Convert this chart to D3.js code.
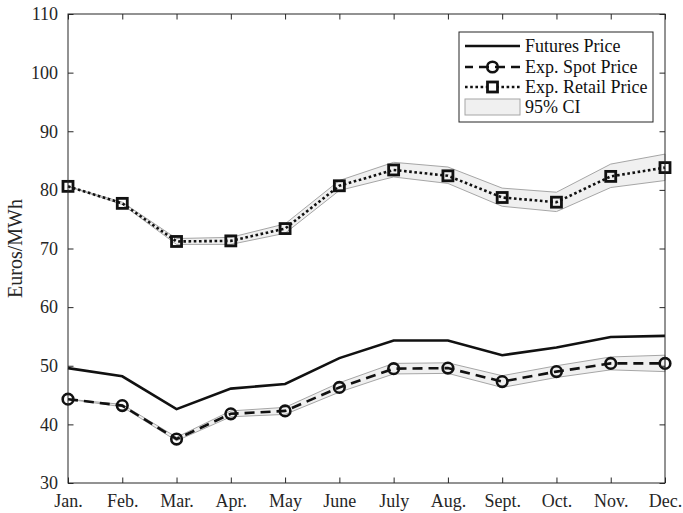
<!DOCTYPE html>
<html>
<head>
<meta charset="utf-8">
<script src="https://cdn.jsdelivr.net/npm/d3@7"></script>
<style>
  html, body { margin: 0; padding: 0; background: #fff; }
  svg { display: block; font-family: "Liberation Serif", "Times New Roman", serif; }
</style>
</head>
<body>
<svg id="chart" width="683" height="513"></svg>
<script>
// Monthly price forecasts (Euros/MWh)
const months = ["Jan.", "Feb.", "Mar.", "Apr.", "May", "June", "July", "Aug.", "Sept.", "Oct.", "Nov.", "Dec."];
const futuresPrice = [49.6, 48.2, 42.6, 46.1, 46.9, 51.3, 54.3, 54.3, 51.8, 53.1, 54.9, 55.1];
const spotPrice    = [44.3, 43.2, 37.5, 41.8, 42.3, 46.3, 49.5, 49.6, 47.3, 49.0, 50.4, 50.4];
const spotLower    = [44.3, 43.0, 37.2, 41.3, 41.7, 45.5, 48.6, 48.7, 46.3, 48.0, 49.3, 49.0];
const spotUpper    = [44.3, 43.4, 37.8, 42.3, 42.9, 47.1, 50.4, 50.5, 48.3, 50.0, 51.5, 51.8];
const retailPrice  = [80.6, 77.7, 71.2, 71.3, 73.4, 80.7, 83.4, 82.4, 78.7, 77.9, 82.3, 83.8];
const retailLower  = [80.6, 77.5, 70.7, 70.7, 72.6, 79.9, 82.2, 81.1, 77.2, 76.3, 80.4, 81.6];
const retailUpper  = [80.6, 77.9, 71.7, 71.9, 74.2, 81.6, 84.7, 83.9, 80.3, 79.6, 84.4, 86.1];
const yTicks = [30, 40, 50, 60, 70, 80, 90, 100, 110];
const legendLabels = ["Futures Price", "Exp. Spot Price", "Exp. Retail Price", "95% CI"];

const svg = d3.select("#chart");
const m = { left: 68, right: 665, top: 14, bottom: 483 };
const axisColor = "#262626";
const serif = "'Liberation Serif', 'Times New Roman', serif";

const x = d3.scalePoint().domain(months).range([m.left, m.right]);
const y = d3.scaleLinear().domain([30, 110]).range([m.bottom, m.top]);

const idx = d3.range(months.length);

// Confidence bands
const band = (lo, hi) => d3.area()
  .x(i => x(months[i]))
  .y0(i => y(lo[i]))
  .y1(i => y(hi[i]));

[[retailLower, retailUpper], [spotLower, spotUpper]].forEach(([lo, hi]) => {
  svg.append("path")
    .datum(idx)
    .attr("d", band(lo, hi))
    .attr("fill", "#f0f0f0")
    .attr("stroke", "#a6a6a6")
    .attr("stroke-width", 1);
});

const line = vals => d3.line().x(i => x(months[i])).y(i => y(vals[i]));

// Futures price: solid
svg.append("path").datum(idx).attr("d", line(futuresPrice))
  .attr("fill", "none").attr("stroke", "#111").attr("stroke-width", 2.6)
  .attr("stroke-linejoin", "miter");

// Expected spot price: dashed with circles
svg.append("path").datum(idx).attr("d", line(spotPrice))
  .attr("fill", "none").attr("stroke", "#111").attr("stroke-width", 2.6)
  .attr("stroke-dasharray", "10,6");
svg.selectAll(".spot").data(idx).join("circle")
  .attr("class", "spot")
  .attr("cx", i => x(months[i])).attr("cy", i => y(spotPrice[i]))
  .attr("r", 5.3).attr("fill", "none").attr("stroke", "#111").attr("stroke-width", 2.6);

// Expected retail price: dotted with squares
svg.append("path").datum(idx).attr("d", line(retailPrice))
  .attr("fill", "none").attr("stroke", "#111").attr("stroke-width", 2.6)
  .attr("stroke-dasharray", "2.6,2.6");
svg.selectAll(".retail").data(idx).join("rect")
  .attr("class", "retail")
  .attr("x", i => x(months[i]) - 5).attr("y", i => y(retailPrice[i]) - 5)
  .attr("width", 10).attr("height", 10)
  .attr("fill", "none").attr("stroke", "#111").attr("stroke-width", 2.8);

// Axes box with inward ticks
const tickLen = 5.5;
const axes = svg.append("g");
axes.append("rect")
  .attr("x", m.left).attr("y", m.top)
  .attr("width", m.right - m.left).attr("height", m.bottom - m.top)
  .attr("fill", "none").attr("stroke", axisColor).attr("stroke-width", 1);

const axL = d3.axisLeft(y).tickValues(yTicks).tickSize(-tickLen).tickPadding(10).tickFormat(d3.format("d"));
const axR = d3.axisRight(y).tickValues(yTicks).tickSize(-tickLen).tickFormat("");
const axB = d3.axisBottom(x).tickSize(-tickLen).tickPadding(11);
const axT = d3.axisTop(x).tickSize(-tickLen).tickFormat("");

[[axL, `translate(${m.left},0)`], [axR, `translate(${m.right},0)`],
 [axB, `translate(0,${m.bottom})`], [axT, `translate(0,${m.top})`]].forEach(([ax, tr]) => {
  const g = axes.append("g").attr("transform", tr).call(ax);
  g.select(".domain").remove();
  g.selectAll("line").attr("stroke", axisColor);
  g.selectAll("text").attr("fill", "#262626").style("font-size", "18px")
    .style("font-family", serif);
});

// Y-axis title
svg.append("text")
  .attr("transform", `translate(22,${(m.top + m.bottom) / 2}) rotate(-90)`)
  .attr("text-anchor", "middle")
  .attr("fill", "#262626")
  .style("font-size", "20px")
  .style("font-family", serif)
  .text("Euros/MWh");

// Legend
const lg = svg.append("g");
lg.append("rect").attr("x", 459).attr("y", 32).attr("width", 194).attr("height", 90)
  .attr("fill", "#fff").attr("stroke", axisColor).attr("stroke-width", 1);
const rowY = [46, 67, 87, 107];
const sx0 = 465, sx1 = 520, smid = (sx0 + sx1) / 2;
// Futures
lg.append("line").attr("x1", sx0).attr("x2", sx1).attr("y1", rowY[0]).attr("y2", rowY[0])
  .attr("stroke", "#111").attr("stroke-width", 2.6);
// Spot
lg.append("line").attr("x1", sx0).attr("x2", sx1).attr("y1", rowY[1]).attr("y2", rowY[1])
  .attr("stroke", "#111").attr("stroke-width", 2.6).attr("stroke-dasharray", "10,6")
  .attr("stroke-dashoffset", 2);
lg.append("circle").attr("cx", smid).attr("cy", rowY[1]).attr("r", 5.3)
  .attr("fill", "none").attr("stroke", "#111").attr("stroke-width", 2.6);
// Retail
lg.append("line").attr("x1", sx0).attr("x2", sx1).attr("y1", rowY[2]).attr("y2", rowY[2])
  .attr("stroke", "#111").attr("stroke-width", 2.6).attr("stroke-dasharray", "2.6,2.6");
lg.append("rect").attr("x", smid - 5).attr("y", rowY[2] - 5).attr("width", 10).attr("height", 10)
  .attr("fill", "#fff").attr("stroke", "#111").attr("stroke-width", 2.8);
// CI patch
lg.append("rect").attr("x", sx0).attr("y", rowY[3] - 8).attr("width", sx1 - sx0).attr("height", 16)
  .attr("fill", "#f0f0f0").attr("stroke", "#a6a6a6").attr("stroke-width", 1);

lg.selectAll(".lbl").data(legendLabels).join("text")
  .attr("class", "lbl")
  .attr("x", 525).attr("y", (d, i) => rowY[i])
  .attr("dy", "0.35em")
  .attr("fill", "#111")
  .style("font-size", "18px")
  .style("font-family", serif)
  .text(d => d);
</script>
</body>
</html>
